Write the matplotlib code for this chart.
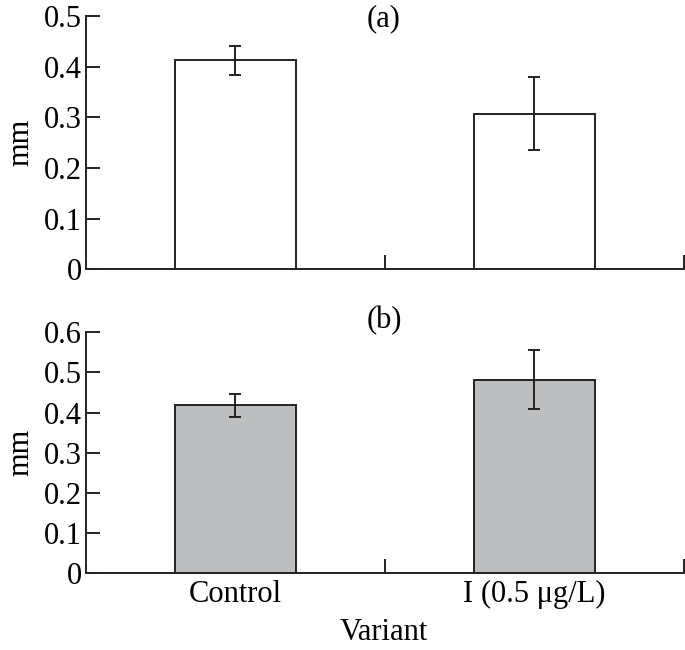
import matplotlib
matplotlib.use("Agg")
import matplotlib.pyplot as plt

categories = ["Control", "I (0.5 μg/L)"]
vals_a = [0.413, 0.307]
err_a = [0.029, 0.072]
vals_b = [0.418, 0.482]
err_b = [0.028, 0.074]

plt.rcParams['font.family'] = ['Liberation Serif', 'DejaVu Serif']
FS = 22

fig = plt.figure(figsize=(6.85, 6.5), dpi=100)
ax1 = fig.add_axes([0.1255, 0.586, 0.873, 0.389])
ax2 = fig.add_axes([0.1255, 0.1185, 0.873, 0.3703])

ec = "#222222"
x = [0, 1]

def style(ax, ymax, step):
    ax.set_xlim(-0.5, 1.5)
    ax.set_ylim(0, ymax)
    for s in ["top", "right"]:
        ax.spines[s].set_visible(False)
    for s in ["left", "bottom"]:
        ax.spines[s].set_linewidth(1.4)
        ax.spines[s].set_color(ec)
    ticks = [round(i * step, 1) for i in range(int(round(ymax / step)) + 1)]
    ax.set_yticks(ticks)
    ax.set_yticklabels(["0" if t == 0 else f"{t:.1f}" for t in ticks])
    ax.set_xticks([0.5, 1.5])
    ax.set_xticklabels([])
    ax.tick_params(axis="both", direction="in", length=10, width=1.4, color=ec, labelsize=FS, pad=3)
    ax.set_ylabel("mm", fontsize=FS, labelpad=6)

ax1.bar(x, vals_a, width=0.405, color="white", edgecolor=ec, linewidth=1.4,
        yerr=err_a, error_kw=dict(ecolor=ec, elinewidth=1.4, capsize=4, capthick=1.4))
style(ax1, 0.5, 0.1)

ax2.bar(x, vals_b, width=0.405, color="#bdbec0", edgecolor=ec, linewidth=1.4,
        yerr=err_b, error_kw=dict(ecolor=ec, elinewidth=1.4, capsize=4, capthick=1.4))
style(ax2, 0.6, 0.1)

for i, c in enumerate(categories):
    ax2.text(x[i], -0.03, c, transform=ax2.get_xaxis_transform(), ha="center", va="top", fontsize=FS)

fig.text(384/685, 1 - 19/650, "(a)", ha="center", va="center", fontsize=FS)
fig.text(384/685, 1 - 321/650, "(b)", ha="center", va="center", fontsize=FS)
fig.text(384/685, 1 - 632/650, "Variant", ha="center", va="center", fontsize=FS)

fig.savefig("out.png", dpi=100)
